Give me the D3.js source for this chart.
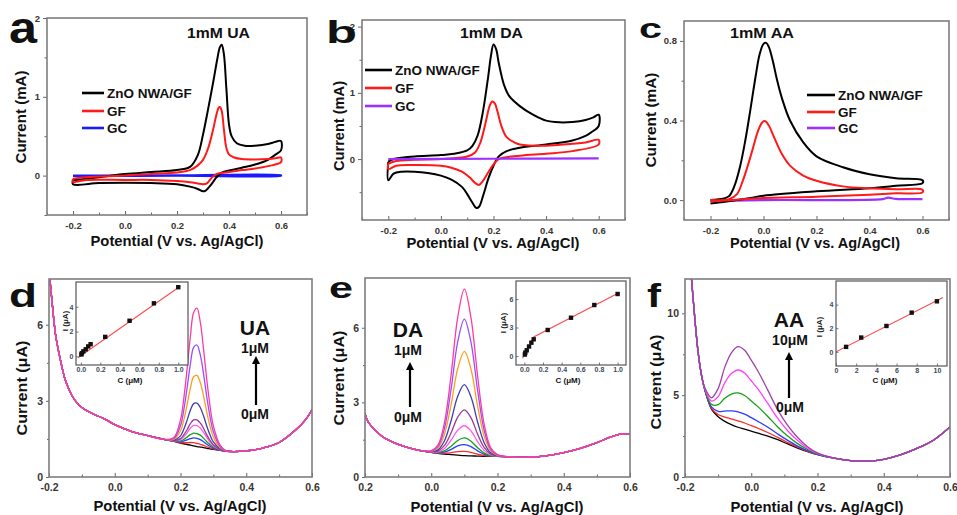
<!DOCTYPE html>
<html><head><meta charset="utf-8">
<script src="https://cdn.jsdelivr.net/npm/d3@7"></script>
<style>
body{margin:0;background:#fff}
svg{display:block}
text{font-family:"Liberation Sans",Arial,sans-serif;font-weight:bold}
</style>
</head><body>
<svg id="fig" width="957" height="515"></svg>
<script>
// ---------------- DATA ----------------
// Panel a: CV in 1 mM UA (V, mA)
const aZnO = [[-0.2,-0.06],[-0.15,-0.04],[-0.1,-0.02],[0.0,0.02],[0.1,0.045],[0.2,0.07],[0.25,0.11],[0.28,0.26],[0.30,0.52],[0.32,0.85],[0.34,1.2],[0.355,1.48],[0.365,1.63],[0.372,1.66],[0.38,1.55],[0.39,1.1],[0.40,0.65],[0.41,0.5],[0.43,0.41],[0.46,0.38],[0.5,0.38],[0.55,0.40],[0.58,0.43],[0.6,0.44],[0.6,0.32],[0.58,0.27],[0.55,0.2],[0.5,0.14],[0.45,0.1],[0.4,0.065],[0.37,0.035],[0.35,-0.03],[0.33,-0.12],[0.31,-0.19],[0.30,-0.2],[0.28,-0.17],[0.25,-0.14],[0.2,-0.11],[0.1,-0.095],[0.0,-0.09],[-0.1,-0.095],[-0.2,-0.11],[-0.2,-0.06]];
const aGF = [[-0.2,-0.04],[-0.15,-0.02],[0.0,0.0],[0.1,0.02],[0.2,0.04],[0.25,0.07],[0.28,0.13],[0.30,0.2],[0.32,0.35],[0.34,0.6],[0.35,0.75],[0.36,0.86],[0.365,0.87],[0.372,0.82],[0.38,0.6],[0.39,0.35],[0.40,0.27],[0.42,0.23],[0.45,0.21],[0.5,0.205],[0.55,0.21],[0.58,0.22],[0.6,0.23],[0.6,0.17],[0.55,0.12],[0.5,0.09],[0.45,0.07],[0.4,0.045],[0.35,0.015],[0.33,-0.04],[0.315,-0.1],[0.30,-0.11],[0.28,-0.1],[0.25,-0.085],[0.2,-0.07],[0.1,-0.055],[0.0,-0.055],[-0.15,-0.055],[-0.2,-0.08],[-0.2,-0.04]];
const aGC = [[-0.2,0.0],[0.2,0.002],[0.6,0.005],[0.6,0.0],[0.2,-0.002],[-0.2,-0.005]];
// Panel b: CV in 1 mM DA
const bZnO = [[-0.2,-0.04],[-0.18,0.0],[-0.15,0.02],[-0.1,0.04],[0.0,0.06],[0.05,0.08],[0.1,0.13],[0.12,0.2],[0.14,0.36],[0.16,0.72],[0.18,1.25],[0.19,1.55],[0.2,1.73],[0.21,1.66],[0.22,1.45],[0.24,1.12],[0.26,0.95],[0.3,0.8],[0.35,0.67],[0.4,0.58],[0.45,0.555],[0.5,0.56],[0.55,0.59],[0.58,0.63],[0.6,0.67],[0.6,0.5],[0.57,0.4],[0.55,0.35],[0.5,0.28],[0.4,0.22],[0.3,0.17],[0.25,0.12],[0.22,0.04],[0.2,-0.1],[0.18,-0.3],[0.16,-0.56],[0.145,-0.72],[0.135,-0.74],[0.12,-0.66],[0.1,-0.53],[0.08,-0.42],[0.04,-0.31],[0.0,-0.25],[-0.05,-0.21],[-0.1,-0.19],[-0.15,-0.19],[-0.18,-0.22],[-0.2,-0.32],[-0.2,-0.04]];
const bGF = [[-0.2,-0.07],[-0.17,-0.03],[-0.1,-0.01],[0.0,0.0],[0.1,0.04],[0.13,0.1],[0.15,0.25],[0.17,0.55],[0.185,0.8],[0.195,0.87],[0.205,0.84],[0.215,0.72],[0.23,0.5],[0.25,0.33],[0.28,0.25],[0.3,0.22],[0.4,0.2],[0.5,0.23],[0.55,0.25],[0.6,0.29],[0.6,0.22],[0.5,0.12],[0.4,0.08],[0.3,0.05],[0.22,0.0],[0.2,-0.08],[0.18,-0.2],[0.16,-0.33],[0.145,-0.39],[0.13,-0.36],[0.11,-0.28],[0.08,-0.19],[0.04,-0.13],[0.0,-0.1],[-0.1,-0.09],[-0.17,-0.1],[-0.2,-0.15],[-0.2,-0.07]];
const bGC = [[-0.2,0.0],[0.2,0.005],[0.6,0.01]];
// Panel c: CV in 1 mM AA
const cZnO = [[-0.2,0.0],[-0.15,0.008],[-0.13,0.02],[-0.11,0.07],[-0.09,0.16],[-0.07,0.29],[-0.05,0.45],[-0.03,0.62],[-0.015,0.73],[0.0,0.785],[0.01,0.79],[0.02,0.77],[0.035,0.7],[0.05,0.61],[0.07,0.51],[0.1,0.4],[0.15,0.29],[0.2,0.22],[0.3,0.165],[0.4,0.13],[0.5,0.11],[0.6,0.1],[0.6,0.085],[0.5,0.072],[0.4,0.06],[0.2,0.044],[0.0,0.022],[-0.05,0.01],[-0.1,0.0],[-0.2,-0.017]];
const cGF = [[-0.2,0.0],[-0.13,0.005],[-0.1,0.03],[-0.08,0.09],[-0.06,0.17],[-0.04,0.26],[-0.02,0.35],[-0.005,0.39],[0.005,0.397],[0.02,0.375],[0.04,0.315],[0.07,0.23],[0.1,0.173],[0.15,0.123],[0.2,0.097],[0.3,0.069],[0.4,0.059],[0.5,0.054],[0.6,0.052],[0.6,0.039],[0.5,0.034],[0.4,0.027],[0.2,0.017],[0.0,0.01],[-0.1,0.002],[-0.2,-0.007]];
const cGC = [[-0.2,-0.005],[0.0,0.0],[0.45,0.005],[0.47,0.012],[0.5,0.006],[0.6,0.005]];
const legendNames = ["ZnO NWA/GF","GF","GC"];

// Panel d: DPV of UA, 0 -> 1 uM (V, uA)
const dBaseV = [-0.2,-0.19,-0.18,-0.17,-0.16,-0.15,-0.13,-0.11,-0.09,-0.06,-0.03,0.0,0.05,0.10,0.15,0.18,0.20,0.21,0.22,0.23,0.24,0.25,0.26,0.27,0.28,0.29,0.30,0.32,0.34,0.36,0.40,0.45,0.50,0.55,0.58,0.60];
const dBaseI = [8.2,6.8,5.6,4.9,4.3,3.8,3.2,2.85,2.65,2.45,2.28,2.06,1.80,1.63,1.48,1.40,1.33,1.31,1.28,1.26,1.23,1.20,1.18,1.16,1.13,1.11,1.09,1.05,1.02,1.00,1.03,1.14,1.36,1.85,2.25,2.65];
const dWinV = [0.18,0.20,0.21,0.22,0.23,0.24,0.25,0.26,0.27,0.28,0.29,0.30,0.32,0.34];
const dPeakI = [
  [1.40,1.35,1.35,1.35,1.36,1.35,1.32,1.29,1.25,1.19,1.15,1.11,1.05,1.02],
  [1.41,1.38,1.42,1.46,1.51,1.54,1.52,1.47,1.39,1.29,1.21,1.14,1.06,1.02],
  [1.42,1.42,1.48,1.57,1.67,1.73,1.71,1.65,1.53,1.39,1.27,1.18,1.07,1.02],
  [1.42,1.47,1.58,1.74,1.92,2.03,2.02,1.93,1.76,1.55,1.37,1.23,1.08,1.02],
  [1.43,1.51,1.66,1.86,2.10,2.25,2.25,2.13,1.92,1.66,1.44,1.27,1.09,1.02],
  [1.45,1.62,1.88,2.23,2.63,2.89,2.91,2.74,2.41,2.00,1.65,1.38,1.12,1.02],
  [1.48,1.81,2.24,2.84,3.50,3.95,4.00,3.73,3.20,2.55,1.99,1.57,1.16,1.02],
  [1.52,2.02,2.64,3.50,4.45,5.11,5.20,4.82,4.07,3.15,2.36,1.78,1.21,1.02],
  [1.56,2.25,3.09,4.25,5.53,6.48,6.65,6.12,5.05,3.83,2.78,2.01,1.27,1.02]
];
const dColors = ["#000000","#ff2a2a","#2a3cff","#15a015","#ff5cf0","#9a3a9a","#3a3fb0","#ff9e1a","#9a4cff","#ff3aa0"];
const dInsetC = [0.005,0.01,0.025,0.05,0.075,0.1,0.25,0.5,0.75,1.0];
const dInsetI = [0.15,0.25,0.4,0.57,0.8,0.98,1.57,2.87,4.28,5.58];
const dFit = [[-0.03,-0.12],[1.02,5.66]];

// Panel e: DPV of DA, 0 -> 1 uM
const eBaseV = [-0.2,-0.19,-0.17,-0.15,-0.12,-0.08,-0.04,0.00,0.02,0.04,0.06,0.08,0.10,0.12,0.14,0.16,0.18,0.20,0.25,0.30,0.35,0.40,0.45,0.50,0.54,0.57,0.60];
const eBaseI = [2.55,2.2,1.9,1.65,1.42,1.22,1.08,0.99,0.95,0.92,0.90,0.88,0.86,0.85,0.84,0.83,0.83,0.83,0.80,0.80,0.86,0.98,1.15,1.38,1.6,1.72,1.74];
const eWinV = [0.00,0.02,0.04,0.06,0.08,0.10,0.12,0.14,0.16,0.18,0.20];
const ePeakI = [
  [0.99,0.96,0.95,0.98,1.02,1.03,0.99,0.92,0.86,0.84,0.83],
  [0.99,0.97,1.00,1.11,1.25,1.30,1.22,1.05,0.91,0.85,0.83],
  [0.99,0.99,1.05,1.24,1.47,1.57,1.44,1.18,0.96,0.85,0.83],
  [1.00,1.01,1.15,1.48,1.88,2.06,1.85,1.42,1.06,0.89,0.84],
  [1.01,1.04,1.27,1.78,2.41,2.70,2.38,1.72,1.18,0.92,0.85],
  [1.02,1.09,1.46,2.27,3.25,3.71,3.22,2.21,1.37,0.97,0.86],
  [1.03,1.16,1.72,2.91,4.36,5.05,4.33,2.85,1.63,1.04,0.87],
  [1.04,1.22,1.96,3.54,5.44,6.35,5.41,3.48,1.87,1.10,0.88],
  [1.06,1.28,2.19,4.11,6.43,7.55,6.40,4.05,2.10,1.16,0.90]
];
const eColors = dColors;
const eInsetC = [0.005,0.01,0.025,0.05,0.075,0.1,0.25,0.5,0.75,1.0];
const eInsetI = [0.15,0.35,0.6,1.0,1.4,1.76,2.74,4.03,5.37,6.53];
const eFit = [[-0.02,-0.25],[0.1,2.0],[1.02,6.68]];

// Panel f: DPV of AA, 0 -> 10 uM
const fBaseV = [-0.2,-0.19,-0.18,-0.17,-0.16,-0.15,-0.14,-0.12,-0.10,-0.08,-0.06,-0.04,-0.02,0.0,0.02,0.05,0.08,0.11,0.14,0.17,0.20,0.25,0.30,0.35,0.40,0.45,0.50,0.55,0.60];
const fBaseI = [16.0,14.0,12.0,9.6,7.55,6.2,5.3,4.15,3.68,3.4,3.2,3.04,2.92,2.8,2.68,2.5,2.28,2.02,1.77,1.55,1.37,1.15,1.0,0.97,1.08,1.35,1.75,2.25,3.06];
const fWinV = [-0.14,-0.12,-0.10,-0.08,-0.06,-0.04,-0.02,0.0,0.02,0.05,0.08,0.11,0.14,0.17,0.20];
const fPeakI = [
  [5.31,4.20,3.82,3.66,3.55,3.43,3.30,3.14,2.98,2.72,2.42,2.11,1.82,1.57,1.38],
  [5.33,4.28,4.01,4.03,4.04,3.98,3.84,3.63,3.40,3.04,2.63,2.24,1.89,1.61,1.39],
  [5.36,4.44,4.42,4.81,5.07,5.14,4.98,4.65,4.30,3.70,3.06,2.50,2.04,1.68,1.41],
  [5.40,4.64,4.91,5.75,6.32,6.54,6.35,5.88,5.38,4.50,3.58,2.83,2.23,1.76,1.44],
  [5.45,4.84,5.41,6.70,7.59,7.97,7.75,7.14,6.48,5.31,4.10,3.15,2.41,1.85,1.47]
];
const fColors = ["#000000","#ff2a2a","#2a3cff","#15a015","#ff40ff","#a040a8"];
const fInsetC = [1,2.5,5,7.5,10];
const fInsetI = [0.42,1.21,2.19,3.32,4.28];
const fFit = [[0,0.0],[10.6,4.6]];

// tick labels
const cvXTicks = [-0.2,0.0,0.2,0.4,0.6];
const cvXLabels = ["-0.2","0.0","0.2","0.4","0.6"];
const eXLabels = ["0.2","0.0","0.2","0.4","0.6"];
const xMinor = [-0.3,-0.1,0.1,0.3,0.5,0.7];
const aYTicks = [0,1,2], aYLabels = ["0","1","2"], aYMinor = [-0.5,0.5,1.5];
const bYTicks = [0,1,2], bYLabels = ["0","1","2"], bYMinor = [-0.5,0.5,1.5];
const cYTicks = [0,0.4,0.8], cYLabels = ["0.0","0.4","0.8"], cYMinor = [0.2,0.6];
const dYTicks = [0,3,6], dYLabels = ["0","3","6"], dYMinor = [1.5,4.5];
const eYTicks = [0,3,6], eYLabels = ["0","3","6"], eYMinor = [1.5,4.5];
const fYTicks = [0,5,10], fYLabels = ["0","5","10"], fYMinor = [2.5,7.5];
const insXTicks01 = [0,0.2,0.4,0.6,0.8,1.0], insXLabels01 = ["0.0","0.2","0.4","0.6","0.8","1.0"];
const fInsXTicks = [0,2,4,6,8,10], fInsXLabels = ["0","2","4","6","8","10"];
const dInsYTicks = [0,2,4], eInsYTicks = [0,3,6], fInsYTicks = [0,2,4];

// ---------------- DRAWING ----------------
const svg = d3.select("#fig");
const defs = svg.append("defs");
let clipN = 0;
const FONT = '"Liberation Sans",Arial,sans-serif';

function panel(x0,x1,y0,y1,xd,yd,opt){
  const g = svg.append("g");
  const x = d3.scaleLinear().domain(xd).range([x0,x1]);
  const y = d3.scaleLinear().domain(yd).range([y1,y0]);
  const id = "clip"+(clipN++);
  defs.append("clipPath").attr("id",id).append("rect")
    .attr("x",x0).attr("y",y0).attr("width",x1-x0).attr("height",y1-y0);
  if(opt.bg) g.append("rect").attr("x",x0).attr("y",y0).attr("width",x1-x0).attr("height",y1-y0).attr("fill","#fff");
  const plot = g.append("g").attr("clip-path",`url(#${id})`);
  const axes = g.append("g");
  function style(sel){
    sel.select(".domain").remove();
    sel.selectAll("line").attr("stroke",opt.tickColor).attr("stroke-width",opt.tickW);
    sel.selectAll("text").attr("font-size",opt.fs).attr("font-weight","bold")
      .attr("font-family",FONT).attr("fill",opt.labelColor);
  }
  if(opt.xm) axes.append("g").attr("transform",`translate(0,${y1})`)
    .call(d3.axisBottom(x).tickValues(opt.xm).tickFormat("").tickSizeInner(-opt.tkm).tickSizeOuter(0)).call(style);
  axes.append("g").attr("transform",`translate(0,${y1})`)
    .call(d3.axisBottom(x).tickValues(opt.xt).tickFormat((d,i)=>opt.xl[i]).tickSizeInner(-opt.tk).tickSizeOuter(0).tickPadding(opt.xpad)).call(style);
  if(opt.ym) axes.append("g").attr("transform",`translate(${x0},0)`)
    .call(d3.axisLeft(y).tickValues(opt.ym).tickFormat("").tickSizeInner(opt.ytkm).tickSizeOuter(0)).call(style);
  axes.append("g").attr("transform",`translate(${x0},0)`)
    .call(d3.axisLeft(y).tickValues(opt.yt).tickFormat((d,i)=>opt.yl[i]).tickSizeInner(opt.ytk).tickSizeOuter(0).tickPadding(opt.ypad)).call(style);
  g.append("rect").attr("x",x0).attr("y",y0).attr("width",x1-x0).attr("height",y1-y0)
    .attr("fill","none").attr("stroke",opt.frame).attr("stroke-width",opt.frameW);
  return {g,plot,x,y};
}

function txt(s,x,y,size,opt={}){
  const t = svg.append("text").attr("x",x).attr("y",y).attr("font-size",size)
    .attr("font-family",FONT).attr("font-weight","bold").attr("fill",opt.fill||"#111")
    .attr("text-anchor",opt.anchor||"start").text(s);
  if(opt.len) t.attr("textLength",opt.len).attr("lengthAdjust","spacingAndGlyphs");
  if(opt.rot) t.attr("x",null).attr("y",null).attr("transform",`translate(${x},${y}) rotate(-90)`);
  return t;
}

const smooth = d3.curveCatmullRom.alpha(0.5);
function drawLine(P,pts,color,w){
  P.plot.append("path").datum(pts).attr("fill","none").attr("stroke",color)
    .attr("stroke-width",w).attr("stroke-linejoin","round")
    .attr("d",d3.line().x(d=>P.x(d[0])).y(d=>P.y(d[1])).curve(smooth));
}

const cvOpt = (yt,yl,ym,xl)=>({xt:cvXTicks,xl:xl,xm:xMinor,yt,yl,ym,tk:4,tkm:2.5,ytk:4,ytkm:2.5,
  xpad:7.5,ypad:3,fs:9.5,tickColor:"#666",tickW:1,labelColor:"#3a3530",frame:"#7d7d7d",frameW:1.6});

// ---- Panel a ----
const A = panel(47,307,18,215,[-0.3,0.7],[-0.5,2],cvOpt(aYTicks,aYLabels,aYMinor,cvXLabels));
drawLine(A,aGC,"#1a1aff",2.2);
drawLine(A,aZnO,"#000",2);
drawLine(A,aGF,"#ff1a1a",2);
// ---- Panel b ----
const B = panel(362,625,20,220,[-0.3,0.7],[-0.92,2.1],cvOpt(bYTicks,bYLabels,bYMinor,cvXLabels));
drawLine(B,bZnO,"#000",2);
drawLine(B,bGF,"#ff1a1a",2);
drawLine(B,bGC,"#9b30ff",2.2);
// ---- Panel c ----
const C = panel(684,949,21,220,[-0.3,0.7],[-0.1,0.9],cvOpt(cYTicks,cYLabels,cYMinor,cvXLabels));
drawLine(C,cGC,"#9b30ff",2.2);
drawLine(C,cZnO,"#000",2);
drawLine(C,cGF,"#ff1a1a",2);

// legends
function legend(x0,x1,ys,colors){
  legendNames.forEach((n,i)=>{
    svg.append("line").attr("x1",x0).attr("x2",x1).attr("y1",ys[i]).attr("y2",ys[i])
      .attr("stroke",colors[i]).attr("stroke-width",2.6);
    txt(n,x1+3,ys[i]+5,13.5);
  });
}
legend(82,104,[93,111,128],["#000","#ff1a1a","#1a1aff"]);
legend(365,392,[70,88,106],["#000","#ff1a1a","#9b30ff"]);
legend(807,835,[95,112,128],["#000","#ff1a1a","#9b30ff"]);

// ---- DPV panels ----
const dpvOpt = (yt,yl,ym,xl)=>({xt:cvXTicks,xl:xl,xm:[-0.1,0.1,0.3,0.5],yt,yl,ym,tk:4,tkm:2.5,ytk:3,ytkm:2,
  xpad:6.5,ypad:3,fs:10.5,tickColor:"#666",tickW:1,labelColor:"#3a3530",frame:"#7d7d7d",frameW:1.6});

function buildCurve(baseV,baseI,winV,winI){
  const lo = winV[0], hi = winV[winV.length-1];
  const pts = [];
  baseV.forEach((v,i)=>{ if(v<lo-1e-9) pts.push([v,baseI[i]]); });
  winV.forEach((v,i)=>pts.push([v,winI[i]]));
  baseV.forEach((v,i)=>{ if(v>hi+1e-9) pts.push([v,baseI[i]]); });
  return pts;
}
function drawDPV(P,baseV,baseI,winV,peaks,colors){
  drawLine(P,baseV.map((v,i)=>[v,baseI[i]]),colors[0],1.3);
  peaks.forEach((pk,k)=>drawLine(P,buildCurve(baseV,baseI,winV,pk),colors[k+1],1.3));
}

const D = panel(49,312,279,477,[-0.2,0.6],[0,7.8],dpvOpt(dYTicks,dYLabels,dYMinor,cvXLabels));
drawDPV(D,dBaseV,dBaseI,dWinV,dPeakI,dColors);
const E = panel(365,630,278,477,[-0.2,0.6],[0,8],dpvOpt(eYTicks,eYLabels,eYMinor,eXLabels));
drawDPV(E,eBaseV,eBaseI,eWinV,ePeakI,eColors);
const F = panel(685,950,279,477,[-0.2,0.6],[0,12.1],dpvOpt(fYTicks,fYLabels,fYMinor,cvXLabels));
drawDPV(F,fBaseV,fBaseI,fWinV,fPeakI,fColors);

// ---- insets ----
const insOpt = (xt,xl,yt)=>({xt,xl,yt,yl:yt.map(String),tk:2.5,ytk:-2.5,xpad:2.5,ypad:2.5,fs:7,
  tickColor:"#555",tickW:0.8,labelColor:"#3d4a60",frame:"#555",frameW:1.2,bg:true});
function inset(x0,x1,y0,y1,xd,yd,opt,C_,I_,fit){
  const P = panel(x0,x1,y0,y1,xd,yd,opt);
  P.plot.append("path").datum(fit).attr("fill","none").attr("stroke","#ff4a4a").attr("stroke-width",1.1)
    .attr("d",d3.line().x(d=>P.x(d[0])).y(d=>P.y(d[1])));
  P.plot.selectAll("rect.pt").data(C_.map((c,i)=>[c,I_[i]])).enter().append("rect")
    .attr("x",d=>P.x(d[0])-2.2).attr("y",d=>P.y(d[1])-2.2).attr("width",4.4).attr("height",4.4).attr("fill","#111");
  return P;
}
inset(76,188,282,365,[-0.05,1.1],[-0.7,6],insOpt(insXTicks01,insXLabels01,dInsYTicks),dInsetC,dInsetI,dFit);
inset(516,626,281,365,[-0.09,1.09],[-0.95,7.9],insOpt(insXTicks01,insXLabels01,eInsYTicks),eInsetC,eInsetI,eFit);
inset(836,947,281,366,[0,11],[-1.2,6],insOpt(fInsXTicks,fInsXLabels,fInsYTicks),fInsetC,fInsetI,fFit);

txt("I (μA)",68,321,8,{rot:true,anchor:"middle"});
txt("C (μM)",130,383,8,{anchor:"middle"});
txt("I (μA)",506,323,8,{rot:true,anchor:"middle"});
txt("C (μM)",568,383,8,{anchor:"middle"});
txt("I (μA)",822,327,8,{rot:true,anchor:"middle"});
txt("C (μM)",885,383,8,{anchor:"middle"});

// ---- panel letters ----
txt("a",9,43,44,{len:28});
txt("b",326,43,32,{len:31});
txt("c",639,38,27,{len:23});
txt("d",9,307,33,{len:28});
txt("e",329,298,30,{len:24});
txt("f",647,307,34,{len:14});

// ---- titles ----
txt("1mM UA",187,38,15,{len:63});
txt("1mM DA",460,38,15,{len:63});
txt("1mM AA",730,38,15,{len:64});

// ---- axis titles ----
const xTitle = "Potential (V vs. Ag/AgCl)";
txt(xTitle,177,246,14.5,{anchor:"middle",len:173});
txt(xTitle,493,248,14.5,{anchor:"middle",len:173});
txt(xTitle,815,248,14.5,{anchor:"middle",len:170});
txt(xTitle,180,511,14.5,{anchor:"middle",len:173});
txt(xTitle,497,512,14.5,{anchor:"middle",len:173});
txt(xTitle,817,512,14.5,{anchor:"middle",len:173});
txt("Current (mA)",26,117,14.5,{rot:true,anchor:"middle",len:93});
txt("Current (mA)",344,126,14.5,{rot:true,anchor:"middle",len:90});
txt("Current (mA)",656,120,14.5,{rot:true,anchor:"middle",len:95});
txt("Current (μA)",27,388,14.5,{rot:true,anchor:"middle",len:95});
txt("Current (μA)",344,378,14.5,{rot:true,anchor:"middle",len:95});
txt("Current (μA)",661,382,14.5,{rot:true,anchor:"middle",len:95});

// ---- concentration annotations ----
function arrow(x,yBottom,yTop){
  svg.append("line").attr("x1",x).attr("x2",x).attr("y1",yBottom).attr("y2",yTop+6)
    .attr("stroke","#000").attr("stroke-width",2.2);
  svg.append("path").attr("d",`M${x-4},${yTop+8}L${x},${yTop}L${x+4},${yTop+8}Z`).attr("fill","#000");
}
txt("UA",255,335,21,{anchor:"middle"});
txt("1μM",255,353,14,{anchor:"middle"});
arrow(256,405,356);
txt("0μM",255,419,14,{anchor:"middle"});
txt("DA",408,337,21,{anchor:"middle"});
txt("1μM",408,355,14,{anchor:"middle"});
arrow(410,407,362);
txt("0μM",408,422,14,{anchor:"middle"});
txt("AA",789,327,21,{anchor:"middle"});
txt("10μM",790,345,14,{anchor:"middle"});
arrow(789,398,352);
txt("0μM",790,412,14,{anchor:"middle"});
</script>
</body></html>
